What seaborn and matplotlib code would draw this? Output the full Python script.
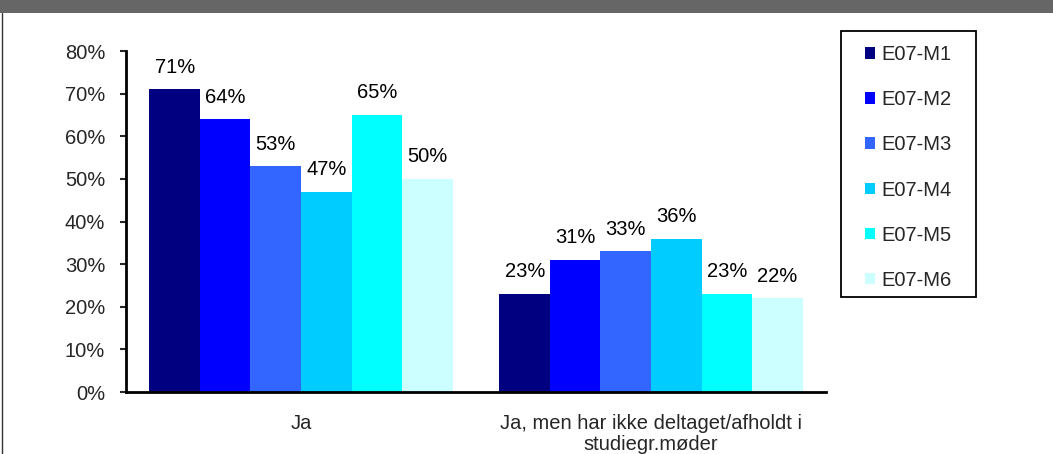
import pandas as pd
import matplotlib
matplotlib.use("Agg")
import matplotlib.pyplot as plt
import seaborn as sns
from matplotlib.patches import Rectangle, Patch
from matplotlib.lines import Line2D
from matplotlib.ticker import FuncFormatter

# ------------------------------------------------------------
# data (percent)
# ------------------------------------------------------------
categories = ["Ja", "Ja, men har ikke deltaget/afholdt i\nstudiegr.møder"]
series = ["E07-M1", "E07-M2", "E07-M3", "E07-M4", "E07-M5", "E07-M6"]
values_ja = [71, 64, 53, 47, 65, 50]
values_ja_men = [23, 31, 33, 36, 23, 22]
colors = ["#000080", "#0000FF", "#3366FF", "#00CCFF", "#00FFFF", "#CCFFFF"]

df = pd.DataFrame({
    "kategori": [categories[0]] * len(series) + [categories[1]] * len(series),
    "serie": series + series,
    "andel": values_ja + values_ja_men,
})

sns.set_style("white")
plt.rcParams["font.family"] = ["Liberation Sans", "DejaVu Sans"]
FS = 14.5

W, H = 1053, 454
fig = plt.figure(figsize=(W / 100, H / 100), dpi=100)
ax = fig.add_axes([126 / W, 1 - 392 / H, 700 / W, 341 / H])

sns.barplot(
    data=df, x="kategori", y="andel", hue="serie",
    order=categories, hue_order=series, palette=colors,
    width=0.866, saturation=1, edgecolor="none", linewidth=0,
    legend=False, ax=ax,
)

for cont in ax.containers:
    ax.bar_label(cont, fmt="%.0f%%", padding=9, fontsize=FS, color="black")

ax.set_xlim(-0.5, 1.5)
ax.set_ylim(0, 80)
ax.set_yticks(range(0, 81, 10))
ax.yaxis.set_major_formatter(FuncFormatter(lambda v, p: f"{v:.0f}%"))
ax.set_xlabel("")
ax.set_ylabel("")
ax.tick_params(axis="y", length=4, width=1.5, direction="out", pad=11,
               labelsize=FS, left=True)
ax.tick_params(axis="x", length=0, pad=16, labelsize=FS)
for lab in ax.get_xticklabels():
    lab.set_linespacing(1.1)

for side in ["top", "right"]:
    ax.spines[side].set_visible(False)
for side in ["left", "bottom"]:
    ax.spines[side].set_color("black")
    ax.spines[side].set_linewidth(2)

# legend: frame drawn by hand, entries via fig.legend
fig.patches.append(Rectangle((841 / W, 1 - 297 / H), 135 / W, 266 / H,
                             transform=fig.transFigure, facecolor="white",
                             edgecolor="black", linewidth=1.3))
handles = [Patch(facecolor=c, edgecolor="none") for c in colors]
fig.legend(handles, series, loc="upper left",
           bbox_to_anchor=(865 / W, 1 - 45 / H), frameon=False,
           fontsize=FS, handlelength=0.5, handleheight=0.5,
           handletextpad=0.3, labelspacing=1.3, borderaxespad=0,
           borderpad=0)

# grey header band and thin left border
fig.patches.append(Rectangle((0, 1 - 13 / H), 1, 13 / H,
                             transform=fig.transFigure, facecolor="#666666",
                             edgecolor="none"))
fig.lines.append(Line2D([1.5 / W, 1.5 / W], [0, 1 - 13 / H],
                        transform=fig.transFigure, color="#333333",
                        linewidth=1))

fig.savefig("out.png", dpi=100)
